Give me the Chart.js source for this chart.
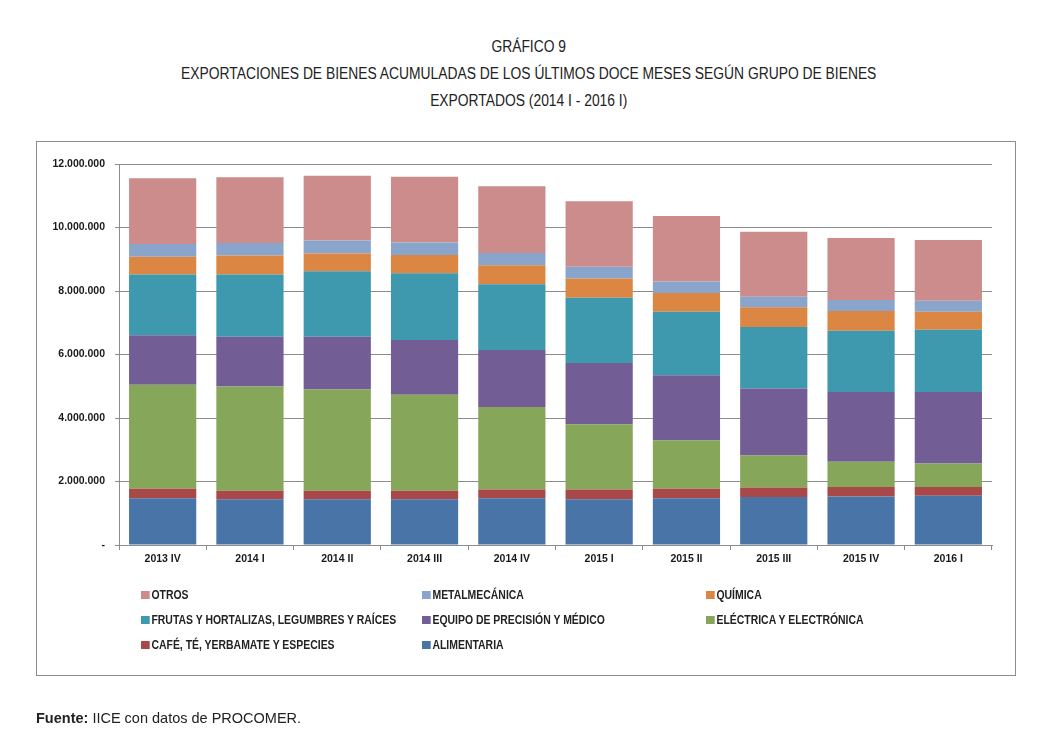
<!DOCTYPE html>
<html lang="es">
<head>
<meta charset="utf-8">
<script src="https://cdn.jsdelivr.net/npm/chart.js@4.4.1/dist/chart.umd.min.js"></script>
<style>
    body { margin: 0; background: #fff; width: 1058px; height: 739px; position: relative; overflow: hidden; }
    .titulo { position: absolute; left: 0; width: 1058px; text-align: center; font-family: "Liberation Sans", Arial, sans-serif; font-size: 16px; color: #222; line-height: 20px; transform: scaleX(0.865); transform-origin: 527px 0; }
    #marco { position: absolute; left: 36px; top: 141px; width: 978px; height: 533px; border: 1px solid #8c8c8c; }
    #grafica { position: absolute; left: 0; top: 0; }
    .leyenda-item { position: absolute; font-family: "Liberation Sans", sans-serif; font-weight: bold; font-size: 12px; color: #222; line-height: 14px; white-space: nowrap; transform: scaleX(0.87); transform-origin: 0 0; }
    .leyenda-item span { display: inline-block; width: 10px; height: 8px; margin-right: 2px; vertical-align: 0px; }
    #fuente { position: absolute; left: 36px; top: 710px; font-family: "Liberation Sans", Arial, sans-serif; font-size: 14.5px; color: #222; }
</style>
</head>
<body>
<div class="titulo" style="top:37px">GRÁFICO 9</div>
<div class="titulo" style="top:64px">EXPORTACIONES DE BIENES ACUMULADAS DE LOS ÚLTIMOS DOCE MESES SEGÚN GRUPO DE BIENES</div>
<div class="titulo" style="top:91px">EXPORTADOS (2014 I - 2016 I)</div>
<div id="marco"></div>
<canvas id="grafica" width="1058" height="739"></canvas>
<div id="leyenda"></div>
<div id="fuente"><b>Fuente:</b> IICE con datos de PROCOMER.</div>

<script>
const trimestres = ["2013 IV", "2014 I", "2014 II", "2014 III", "2014 IV", "2015 I", "2015 II", "2015 III", "2015 IV", "2016 I"];

// valores (orden de apilado, de abajo hacia arriba)
const alimentaria = [1470000, 1440000, 1440000, 1440000, 1470000, 1440000, 1470000, 1510000, 1530000, 1550000];
const cafe = [300000, 270000, 270000, 270000, 280000, 310000, 300000, 300000, 300000, 280000];
const electrica = [3280000, 3280000, 3190000, 3020000, 2600000, 2050000, 1530000, 1010000, 790000, 740000];
const equipo = [1560000, 1570000, 1660000, 1730000, 1790000, 1930000, 2050000, 2110000, 2200000, 2250000];
const frutas = [1910000, 1960000, 2060000, 2100000, 2070000, 2060000, 2000000, 1940000, 1930000, 1960000];
const quimica = [560000, 600000, 560000, 570000, 600000, 600000, 590000, 620000, 620000, 570000];
const metalmecanica = [400000, 390000, 410000, 400000, 390000, 370000, 360000, 330000, 350000, 340000];
const otros = [2070000, 2070000, 2040000, 2070000, 2100000, 2070000, 2060000, 2050000, 1950000, 1920000];

const nombres = ["ALIMENTARIA", "CAFÉ, TÉ, YERBAMATE Y ESPECIES", "ELÉCTRICA Y ELECTRÓNICA", "EQUIPO DE PRECISIÓN Y MÉDICO", "FRUTAS Y HORTALIZAS, LEGUMBRES Y RAÍCES", "QUÍMICA", "METALMECÁNICA", "OTROS"];
const series = [alimentaria, cafe, electrica, equipo, frutas, quimica, metalmecanica, otros];
const colores = ["#4874a8", "#a84848", "#86a65a", "#725e94", "#3f99ae", "#dc8644", "#8aa5cc", "#cc8c8c"];

const gris = "#8c8c8c";

function formatoMiles(v) {
    if (v === 0) return "-";
    return v.toString().replace(/\B(?=(\d{3})+(?!\d))/g, ".");
}

new Chart(document.getElementById("grafica"), {
    type: "bar",
    data: {
        labels: trimestres,
        datasets: series.map((s, i) => ({
            label: nombres[i],
            data: s,
            backgroundColor: colores[i],
            borderWidth: 0,
            barPercentage: 0.77,
            categoryPercentage: 1,
        })),
    },
    options: {
        responsive: false,
        animation: false,
        layout: { padding: { left: 0, top: 164, right: 66, bottom: 164 } },
        plugins: {
            legend: { display: false },
            tooltip: { enabled: false },
        },
        scales: {
            x: {
                stacked: true,
                afterFit: (scale) => { scale.height = 30; },
                grid: { display: true, drawOnChartArea: false, color: gris, tickLength: 5, offset: true },
                border: { display: true, color: gris },
                ticks: {
                    color: "#1a1a1a",
                    padding: 3,
                    font: { family: "Liberation Sans", weight: "bold", size: 10.5 },
                },
            },
            y: {
                stacked: true,
                min: 0,
                max: 12000000,
                afterFit: (scale) => { scale.width = 119; },
                grid: { color: gris, tickLength: 4 },
                border: { display: true, color: gris },
                ticks: {
                    stepSize: 2000000,
                    color: "#1a1a1a",
                    padding: 10,
                    font: { family: "Liberation Sans", weight: "bold", size: 10.5 },
                    callback: (v) => formatoMiles(v),
                },
            },
        },
    },
});

// leyenda en tres columnas, en orden inverso al apilado
const colX = [141, 422, 706];
const filaY = [588, 613, 638];
const leyenda = document.getElementById("leyenda");
nombres.slice().reverse().forEach((n, k) => {
    const i = nombres.length - 1 - k;
    const div = document.createElement("div");
    div.className = "leyenda-item";
    div.style.left = colX[k % 3] + "px";
    div.style.top = filaY[Math.floor(k / 3)] + "px";
    div.innerHTML = `<span style="background:${colores[i]}"></span>${n}`;
    leyenda.appendChild(div);
});
</script>
</body>
</html>
